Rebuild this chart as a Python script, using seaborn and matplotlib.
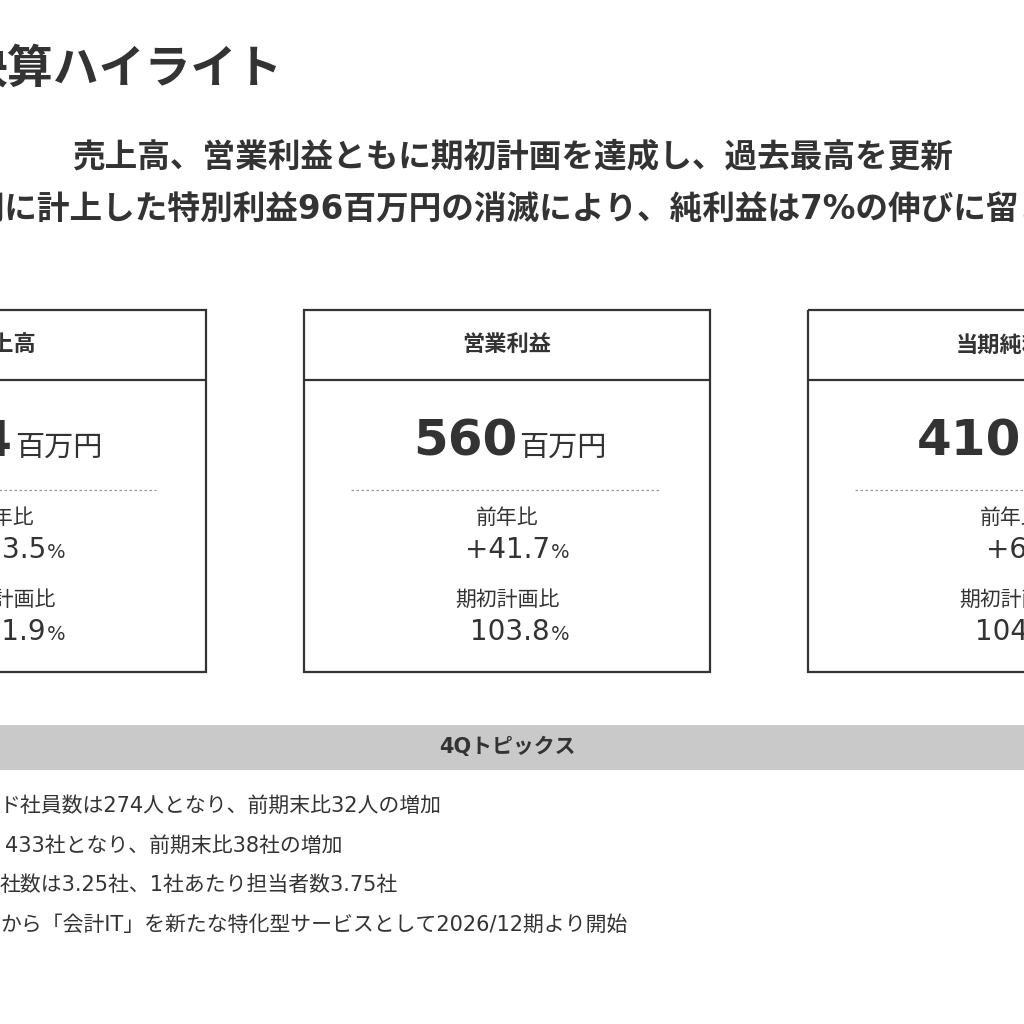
import matplotlib
matplotlib.use('Agg')
import matplotlib.pyplot as plt
import seaborn as sns
from matplotlib.patches import Rectangle

sns.set_theme(style='white')
plt.rcParams['font.family'] = ['DejaVu Sans', 'Noto Sans CJK JP']

title = '決算ハイライト'
subtitle = ['売上高、営業利益ともに期初計画を達成し、過去最高を更新',
            '前期に計上した特別利益96百万円の消滅により、純利益は7%の伸びに留まる']
headers = ['売上高', '営業利益', '当期純利益']
values = ['3,234', '560', '410']
yoy = ['+13.5', '+41.7', '+6.9']
plan = ['101.9', '103.8', '104.1']
topics_title = '4Qトピックス'
topics = ['ド社員数は274人となり、前期末比32人の増加',
          '433社となり、前期末比38社の増加',
          '社数は3.25社、1社あたり担当者数3.75社',
          'から「会計IT」を新たな特化型サービスとして2026/12期より開始']
topic_x = [0, 5, 0, 0]

ink = '#333333'
fig = plt.figure(figsize=(10.24, 10.24), dpi=100)
ax = fig.add_axes([0, 0, 1, 1])
ax.set_xlim(0, 1024)
ax.set_ylim(1024, 0)
ax.axis('off')

ax.text(-38, 70, title, fontsize=33, fontweight='bold', color=ink, va='center')
ax.text(512, 157, subtitle[0], fontsize=23.5, fontweight='bold', color=ink, ha='center', va='center')
ax.text(512, 210, subtitle[1], fontsize=23.5, fontweight='bold', color=ink, ha='center', va='center')

centers = [3, 507, 1011]
for i, c in enumerate(centers):
    ax.add_patch(Rectangle((c - 203, 310), 406, 362, fill=False, ec=ink, lw=1.6))
    ax.plot([c - 203, c + 203], [380, 380], color=ink, lw=1.6)
    ax.text(c, 345, headers[i], fontsize=16, fontweight='bold', color=ink, ha='center', va='center')
    ax.text(c + 10, 442, values[i], fontsize=36, fontweight='bold', color=ink, ha='right', va='center')
    ax.text(c + 12, 448, '百万円', fontsize=21, color=ink, ha='left', va='center')
    ax.plot([c - 156, c + 153], [490, 490], color='#999999', lw=0.9, ls=(0, (2, 2)))
    ax.text(c, 518, '前年比', fontsize=15, color=ink, ha='center', va='center')
    ax.text(c + 43, 550, yoy[i], fontsize=20, color=ink, ha='right', va='center')
    ax.text(c + 44, 553, '%', fontsize=14, color=ink, ha='left', va='center')
    ax.text(c, 600, '期初計画比', fontsize=15, color=ink, ha='center', va='center')
    ax.text(c + 43, 632, plan[i], fontsize=20, color=ink, ha='right', va='center')
    ax.text(c + 44, 635, '%', fontsize=14, color=ink, ha='left', va='center')

ax.add_patch(Rectangle((-10, 725), 1044, 45, color='#c9c9c9', lw=0))
ax.text(507, 747, topics_title, fontsize=15, fontweight='bold', color=ink, ha='center', va='center')
for j, t in enumerate(topics):
    ax.text(topic_x[j], 806 + 39.5 * j, t, fontsize=15, color=ink, ha='left', va='center')

fig.savefig('out.png', dpi=100, facecolor='white')
